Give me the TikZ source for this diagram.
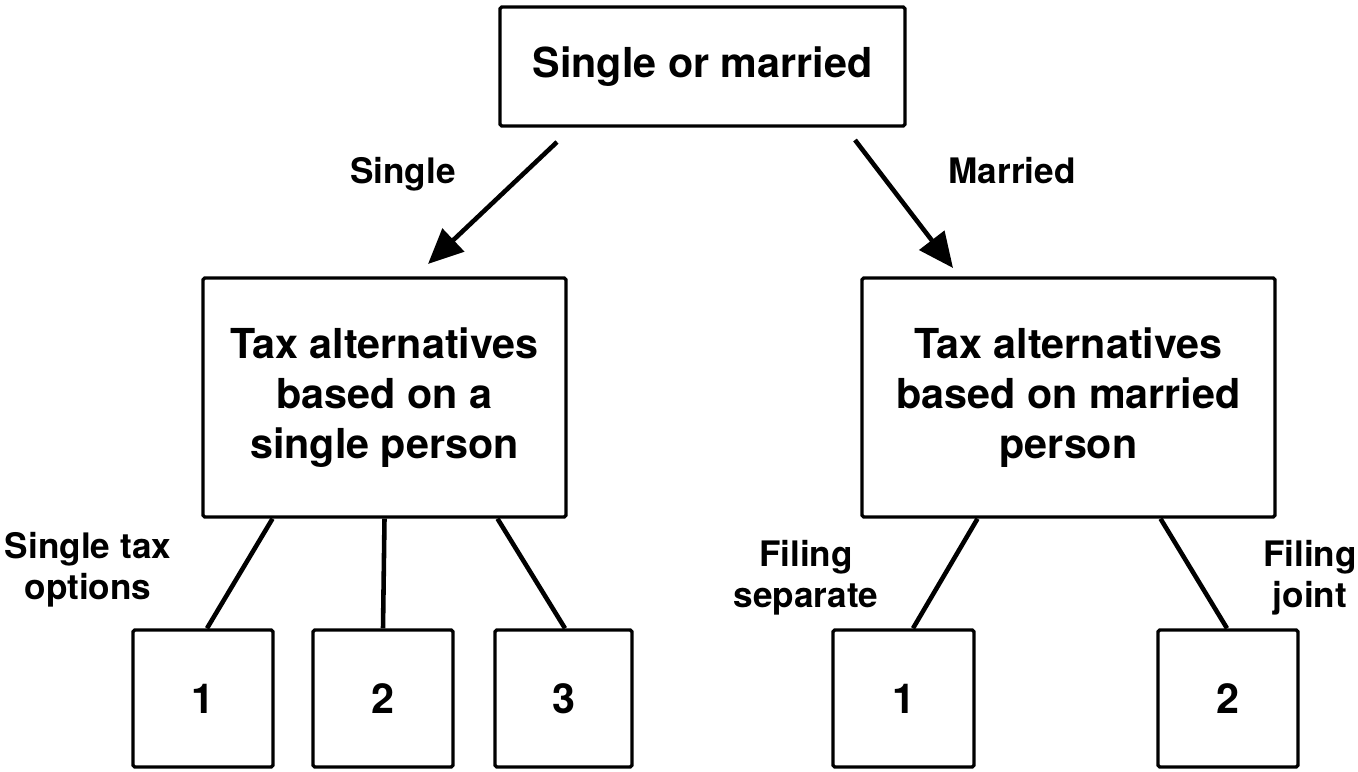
\documentclass[tikz,border=0pt]{standalone}
\usepackage{fontspec}
\setmainfont{TeX Gyre Heros}
\usetikzlibrary{arrows.meta,calc}
% #1 name, #2 x, #3 y, #4 width, #5 height (all in px of the layout)
\newcommand{\tbox}[6]{%
  \node[box,minimum width=#4*0.02cm,minimum height=#5*0.02cm] (#1) at (#2,#3) {#6};}
\newcommand{\tlink}[4]{%
  \draw[link] ($(#1.south)+(#2,0)$) -- ($(#3.north)+(#4,0)$);}

\begin{document}
\begin{tikzpicture}[x=0.02cm,y=-0.02cm,
    box/.style={draw,line width=1.9pt,rounded corners=1pt,inner sep=0pt,align=center,
      font=\fontsize{23.5}{28.5}\selectfont\bfseries},
    lbl/.style={inner sep=0pt,align=center,font=\fontsize{20}{23.5}\selectfont\bfseries},
    link/.style={line width=2.6pt},
    arr/.style={link,-{Triangle[length=0.7cm,width=0.62cm]}}]
  \useasboundingbox (0,0) rectangle (1358,771);
  % question and the two branches
  \tbox{q}{702.5}{66.5}{405}{119}{Single or married}
  \tbox{sgl}{384.5}{397.5}{363}{239}{Tax alternatives\\based on a\\single person}
  \tbox{mar}{1068.5}{397.5}{413}{239}{Tax alternatives\\based on married\\person}
  % options
  \tbox{s1}{203}{698.5}{140}{137}{1}
  \tbox{s2}{383}{698.5}{140}{137}{2}
  \tbox{s3}{563.5}{698.5}{137}{137}{3}
  \tbox{m1}{903.5}{698.5}{141}{137}{1}
  \tbox{m2}{1228}{698.5}{140}{137}{2}
  % arrows
  \coordinate (sglfrom) at (557,142);
  \coordinate (sglto) at (428,264);
  \coordinate (marfrom) at (855,140);
  \coordinate (marto) at (953,268);
  \draw[arr] (sglfrom) -- (sglto);
  \draw[arr] (marfrom) -- (marto);
  \node[lbl,anchor=base] (lsgl) at (403,183) {Single};
  \node[lbl,anchor=base] (lmar) at (1012,183) {Married};
  % option links
  \tlink{sgl}{-112}{s1}{4}
  \tlink{sgl}{0}{s2}{0}
  \tlink{sgl}{113}{s3}{1.5}
  \tlink{mar}{-91}{m1}{9.5}
  \tlink{mar}{92}{m2}{-1}
  \node[lbl] (lsopt) at (88,570) {Single tax\\options};
  \node[lbl] (lsep) at (806,578) {Filing\\separate};
  \node[lbl] (ljnt) at (1310,578) {Filing\\joint};
\end{tikzpicture}
\end{document}
